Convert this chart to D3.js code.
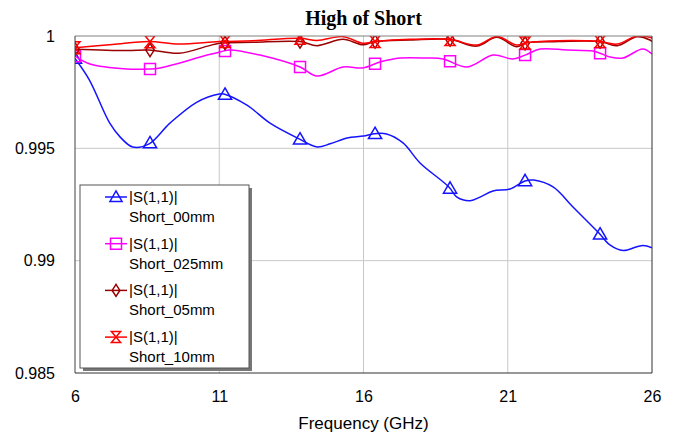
<!DOCTYPE html>
<html><head><meta charset="utf-8">
<script src="https://cdn.jsdelivr.net/npm/d3@7"></script>
<style>body{margin:0;background:#fff}svg{display:block}</style>
</head><body>
<script>
// ---- data ----
const xTicks = [6, 11, 16, 21, 26];
const yTicks = [0.985, 0.99, 0.995, 1];
const yTickLabels = ["0.985", "0.99", "0.995", "1"];
const markerFreqs = [6, 8.6, 11.2, 13.8, 16.4, 19.0, 21.6, 24.2];

const fBlue = [6.0,6.5,7.2,7.56,8.0,8.57,9.29,10.23,11.0,11.16,11.96,12.76,13.77,14.4,14.84,15.43,16.0,16.36,16.8,17.37,17.96,18.96,19.24,19.7,20.04,20.49,21.08,21.6,21.9,22.57,23.26,24.16,24.54,25.0,25.48,25.7,26.0];
const vBlue = [0.9990,0.99804,0.99613,0.99551,0.99506,0.9952,0.99612,0.99706,0.99742,0.99742,0.99692,0.99612,0.99542,0.99506,0.9952,0.99546,0.99555,0.99565,0.99564,0.99524,0.99435,0.99328,0.99283,0.99267,0.99283,0.9931,0.99319,0.99355,0.99359,0.99328,0.99239,0.99123,0.9907,0.99045,0.99062,0.99067,0.99057];

const fPink = [6.0,6.52,7.8,8.56,8.95,10.58,11.03,11.37,12.41,13.8,14.39,15.29,15.98,16.57,17.27,18.2,18.76,19.59,20.49,21.18,21.6,22.12,23.05,23.95,24.2,24.54,24.99,25.68,26.0];
const vPink = [0.9991,0.99875,0.99853,0.99853,0.99858,0.99915,0.99929,0.99938,0.99915,0.99862,0.99822,0.99862,0.99858,0.99884,0.99902,0.99902,0.99898,0.99862,0.99915,0.99898,0.99915,0.99942,0.99938,0.99933,0.99923,0.99907,0.99902,0.99942,0.9992];

const fRed = [6.0,7.3,8.56,9.6,11.0,12.15,13.8,14.39,15.29,15.98,16.4,17.61,18.99,19.93,20.62,21.31,21.65,22.78,24.2,24.79,25.48,25.93,26.0];
const vRed = [0.99948,0.99962,0.99975,0.99964,0.99975,0.99979,0.9999,0.9998,0.99997,0.99968,0.99975,0.99985,0.99985,0.9996,0.99998,0.9996,0.9997,0.99979,0.99975,0.99964,1.0,0.99994,0.9999];

const fDark = [6.0,7.8,8.56,9.6,10.6,11.0,12.15,13.8,14.39,15.29,15.98,16.4,17.61,18.99,19.93,20.62,21.31,21.65,22.78,24.2,24.79,25.48,25.93,26.0];
const vDark = [0.99941,0.99935,0.99938,0.99923,0.99955,0.99968,0.99972,0.99975,0.99957,0.99985,0.99961,0.99975,0.99982,0.99985,0.99955,0.99994,0.99952,0.9997,0.99975,0.99975,0.99957,0.99997,0.99982,0.99975];

const seriesNames = ["Short_00mm", "Short_025mm", "Short_05mm", "Short_10mm"];
const seriesColors = ["#1414ff", "#ff00ff", "#990000", "#ff0000"];
const seriesMarkers = ["triangle", "square", "diamond", "bowtie"];

// ---- layout ----
const W = 675, H = 434;
const m = {left: 75, right: 23, top: 36, bottom: 61};
const svg = d3.select("body").append("svg").attr("width", W).attr("height", H);
const x = d3.scaleLinear().domain([6, 26]).range([m.left, W - m.right]);
const y = d3.scaleLinear().domain([0.985, 1]).range([H - m.bottom, m.top]);
const font = "'Liberation Sans', Arial, sans-serif";

svg.append("text").attr("x", (x(6) + x(26)) / 2).attr("y", 25).attr("text-anchor", "middle")
  .style("font-family", "'Liberation Serif','Times New Roman',serif").style("font-weight", "bold")
  .style("font-size", "20px").text("High of Short");

// grid
svg.append("g").selectAll("line").data(xTicks.slice(1, -1)).join("line")
  .attr("x1", d => x(d)).attr("x2", d => x(d)).attr("y1", y(1)).attr("y2", y(0.985))
  .attr("stroke", "#c8c8c8").attr("stroke-width", 1);
svg.append("g").selectAll("line").data(yTicks.slice(1, -1)).join("line")
  .attr("y1", d => y(d)).attr("y2", d => y(d)).attr("x1", x(6)).attr("x2", x(26))
  .attr("stroke", "#c8c8c8").attr("stroke-width", 1);

// axes via d3 axis (labels only)
const xAxis = svg.append("g").attr("transform", `translate(0,${y(0.985)})`)
  .call(d3.axisBottom(x).tickValues(xTicks).tickSize(0).tickPadding(18).tickFormat(d3.format("d")));
const yAxis = svg.append("g").attr("transform", `translate(${x(6)},0)`)
  .call(d3.axisLeft(y).tickValues(yTicks).tickSize(0).tickPadding(20).tickFormat((d, i) => yTickLabels[i]));
[xAxis, yAxis].forEach(g => {
  g.select(".domain").remove();
  g.selectAll("text").style("font-family", font).style("font-size", "16px").attr("fill", "#000");
});

svg.append("text").attr("x", (x(6) + x(26)) / 2).attr("y", 429).attr("text-anchor", "middle")
  .style("font-family", font).style("font-size", "17px").text("Frequency (GHz)");

// clip
svg.append("clipPath").attr("id", "clip").append("rect")
  .attr("x", x(6)).attr("y", y(1)).attr("width", x(26) - x(6)).attr("height", y(0.985) - y(1));

const symbolPath = (type, s) => {
  if (type === "triangle") return `M0,${-s*0.55}L${s*0.55},${s*0.4}L${-s*0.55},${s*0.4}Z`;
  if (type === "square") return `M${-s/2},${-s/2}H${s/2}V${s/2}H${-s/2}Z`;
  if (type === "diamond") return `M0,${-s*0.55}L${s*0.35},0L0,${s*0.55}L${-s*0.35},0Z`;
  return `M${-s*0.42},${-s*0.5}H${s*0.42}L${-s*0.42},${s*0.5}H${s*0.42}Z`;
};

const data = [[fBlue, vBlue], [fPink, vPink], [fDark, vDark], [fRed, vRed]];
const line = d3.line().x(d => x(d[0])).y(d => y(d[1])).curve(d3.curveCatmullRom.alpha(0.5));
const plot = svg.append("g").attr("clip-path", "url(#clip)");
const interp = (fs, vs, f) => {
  const i = Math.max(1, Math.min(fs.length - 1, d3.bisectLeft(fs, f)));
  const t = (f - fs[i-1]) / (fs[i] - fs[i-1]);
  return vs[i-1] + t * (vs[i] - vs[i-1]);
};
data.forEach(([fs, vs], k) => {
  const pts = fs.map((f, i) => [f, vs[i]]);
  plot.append("path").attr("d", line(pts)).attr("fill", "none")
    .attr("stroke", seriesColors[k]).attr("stroke-width", 1.5);
  plot.selectAll(null).data(markerFreqs).join("path")
    .attr("transform", f => `translate(${x(f)},${y(interp(fs, vs, f))})`)
    .attr("d", symbolPath(seriesMarkers[k], k === 1 ? 11 : 12))
    .attr("fill", "none").attr("stroke", seriesColors[k]).attr("stroke-width", 1.5);
});

// frame
svg.append("line").attr("x1", x(6)).attr("x2", x(26)).attr("y1", y(1)).attr("y2", y(1)).attr("stroke", "#808080");
svg.append("line").attr("x1", x(6)).attr("x2", x(6)).attr("y1", y(1)).attr("y2", y(0.985)).attr("stroke", "#404040");
svg.append("line").attr("x1", x(26)).attr("x2", x(26)).attr("y1", y(1)).attr("y2", y(0.985)).attr("stroke", "#303030");
svg.append("line").attr("x1", x(6)).attr("x2", x(26)).attr("y1", y(0.985)).attr("y2", y(0.985)).attr("stroke", "#303030");

// legend
const lg = svg.append("g").attr("transform", "translate(80,185)");
const lw = 169, lh = 183;
lg.append("rect").attr("x", 3).attr("y", 3).attr("width", lw).attr("height", lh).attr("fill", "#777");
lg.append("rect").attr("x", 0).attr("y", 0).attr("width", lw).attr("height", lh).attr("fill", "#fff").attr("stroke", "#555");
seriesNames.forEach((name, k) => {
  const cy = 12 + k * 46.7;
  const g = lg.append("g").attr("transform", `translate(0,${cy})`);
  g.append("line").attr("x1", 25).attr("x2", 47).attr("y1", 0).attr("y2", 0).attr("stroke", seriesColors[k]).attr("stroke-width", 1.5);
  g.append("path").attr("transform", "translate(36,0)").attr("d", symbolPath(seriesMarkers[k], 11))
    .attr("fill", "none").attr("stroke", seriesColors[k]).attr("stroke-width", 1.5);
  g.append("text").attr("x", 49).attr("y", 5).style("font-family", font).style("font-size", "15px").text("|S(1,1)|");
  g.append("text").attr("x", 49).attr("y", 25).style("font-family", font).style("font-size", "15px").text(name);
});
</script>
</body></html>
